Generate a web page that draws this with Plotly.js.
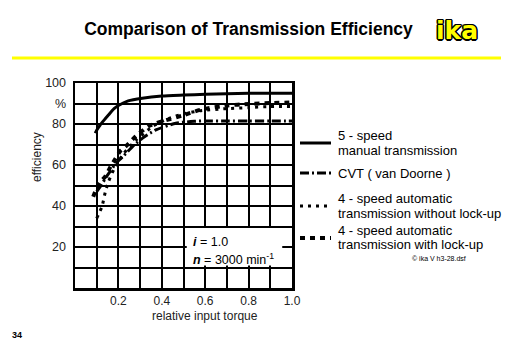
<!DOCTYPE html>
<html><head><meta charset="utf-8">
<script src="https://cdn.plot.ly/plotly-3.0.1.min.js"></script>
<style>html,body{margin:0;padding:0;background:#fff;}#chart{width:512px;height:354px;}</style>
</head><body><div id="chart"></div>
<script>
// ---- data ----
const manualX = [0.093,0.1,0.116,0.135,0.155,0.18,0.2,0.245,0.31,0.4,0.5,0.6,0.7,0.8,0.9,1.0];
const manualY = [75.5,77,79.5,82,84.5,87.5,89,91.3,92.6,93.6,94.1,94.5,94.8,95,95,95];

const cvtX = [0.1,0.12,0.14,0.163,0.19,0.22,0.265,0.31,0.37,0.465,0.55,0.6,0.7,0.8,0.9,1.0];
const cvtY = [47,50,53.5,57,61,64,69,73,77,80.4,81.3,81.5,81.5,81.5,81.5,81.5];

const noLockX = [0.1,0.125,0.14,0.155,0.18,0.22,0.28,0.36,0.44,0.5,0.58,0.7,0.8,0.9,1.0];
const noLockY = [34,40,47,52,58,65,72,79,83,85,86.5,87.5,88,88.5,88.5];

const lockX = [0.084,0.093,0.116,0.14,0.163,0.186,0.21,0.233,0.28,0.34,0.405,0.5,0.58,0.7,0.8,0.9,1.0];
const lockY = [44.5,47,51.5,54.5,59,63,67,69,74,79,81.4,84.3,87,89,89.8,90.2,90.5];

const xTickVals = [0.2,0.4,0.6,0.8,1.0];
const xTickText = ['0.2','0.4','0.6','0.8','1.0'];
const yTickVals = [20,40,60,80,90,100];
const yTickText = ['20','40','60','80','%','100'];

const seriesNames = ['5 - speed manual transmission','CVT ( van Doorne )',
  '4 - speed automatic transmission without lock-up','4 - speed automatic transmission with lock-up'];

// ---- layout helpers ----
const W=512,H=354,L=75,R=292,T=83,B=288;
const px=(x)=>(x-L)/(R-L);
const py=(y)=>(B-y)/(B-T);
const FONT='Liberation Sans, Arial, sans-serif';

const dashes = ['solid','9px,3px,2px,3px','3px,5px','5px,5px'];
const widths = [3,3,3,4];
const xs=[manualX,cvtX,noLockX,lockX], ys=[manualY,cvtY,noLockY,lockY];
const traces = xs.map((x,i)=>({x:x,y:ys[i],type:'scatter',mode:'lines',name:seriesNames[i],
  line:{color:'#000',width:widths[i],dash:dashes[i],shape:'spline',smoothing:0.6},showlegend:false,hoverinfo:'skip'}));

const shapes=[
  {type:'line',xref:'paper',yref:'paper',x0:px(12),x1:px(501),y0:py(58),y1:py(58),line:{color:'#ffff00',width:3}},
  {type:'rect',xref:'x',yref:'y',x0:0.515,x1:0.955,y0:11,y1:29.3,fillcolor:'#fff',line:{width:0},layer:'above'}
];
const legY=[143,173,206,238];
legY.forEach((y,i)=>{
  shapes.push({type:'line',xref:'paper',yref:'paper',x0:px(300),x1:px(331),y0:py(y),y1:py(y),
    line:{color:'#000',width:widths[i],dash:dashes[i]}});
});

const ann=(x,y,text,o)=>Object.assign({xref:'paper',yref:'paper',x:px(x),y:py(y),text:text,showarrow:false,
  xanchor:'left',yanchor:'middle',font:{family:FONT,size:13,color:'#000'}},o||{});

const annotations=[
  ann(457,30,'<b>ika</b>',{xanchor:'center',font:{family:'DejaVu Sans',size:25,color:'#ffff00',
     shadow:'1px 1px 0 #000,-1px -1px 0 #000,1px -1px 0 #000,-1px 1px 0 #000,1.5px 0 0 #000,-1.5px 0 0 #000,0 1.5px 0 #000,0 -1.5px 0 #000'}}),
  ann(37,157,'efficiency',{xanchor:'center',textangle:-90,font:{family:FONT,size:12,color:'#222'}}),
  ann(205,316,'relative input torque',{xanchor:'center',font:{family:FONT,size:12,color:'#222'}}),
  ann(191,242,'<b><i>i</i></b> = 1.0',{font:{family:FONT,size:12.5,color:'#000'}}),
  ann(191,259,'<b><i>n</i></b> = 3000 min<sup>-1</sup>',{font:{family:FONT,size:12.5,color:'#000'}}),
  ann(336,135,'5 - speed'),
  ann(336,150,'manual transmission'),
  ann(336,173,'CVT ( van Doorne )'),
  ann(336,198,'4 - speed automatic'),
  ann(336,213,'transmission without lock-up'),
  ann(336,230,'4 - speed automatic'),
  ann(336,244,'transmission with lock-up'),
  ann(410,258,'© ika V h3-28.dsf',{font:{family:FONT,size:7,color:'#000'}}),
  ann(10,335,'<b>34</b>',{font:{family:FONT,size:9,color:'#000'}})
];

const gridStyle={showgrid:true,gridcolor:'#000',gridwidth:2};
const layout={
  width:W,height:H,margin:{l:L,r:W-R,t:T,b:H-B,pad:0},
  paper_bgcolor:'#fff',plot_bgcolor:'#fff',showlegend:false,
  font:{family:FONT,size:12,color:'#111'},
  title:{text:'<b>Comparison of Transmission Efficiency</b>',xref:'container',yref:'container',
    x:248.5/W,y:1-29/H,xanchor:'center',yanchor:'middle',font:{family:FONT,size:17.5,color:'#000'}},
  xaxis:Object.assign({range:[0,1],tickmode:'array',tickvals:xTickVals,ticktext:xTickText,
    minor:{dtick:0.1,tick0:0,showgrid:true,gridcolor:'#000',gridwidth:2,ticks:''},
    zeroline:false,showline:true,linecolor:'#000',linewidth:2.5,mirror:true,ticks:'',ticklabelstandoff:0,fixedrange:true,
    tickfont:{family:FONT,size:12,color:'#222'}},gridStyle),
  yaxis:Object.assign({range:[0,100],tickmode:'array',tickvals:yTickVals,ticktext:yTickText,
    minor:{dtick:10,tick0:0,showgrid:true,gridcolor:'#000',gridwidth:2,ticks:''},
    zeroline:false,showline:true,linecolor:'#000',linewidth:2.5,mirror:true,ticks:'',ticklabelstandoff:4,fixedrange:true,
    tickfont:{family:FONT,size:12.5,color:'#222'}},gridStyle),
  shapes:shapes,annotations:annotations
};
Plotly.newPlot('chart',traces,layout,{staticPlot:true,displayModeBar:false});
</script></body></html>
